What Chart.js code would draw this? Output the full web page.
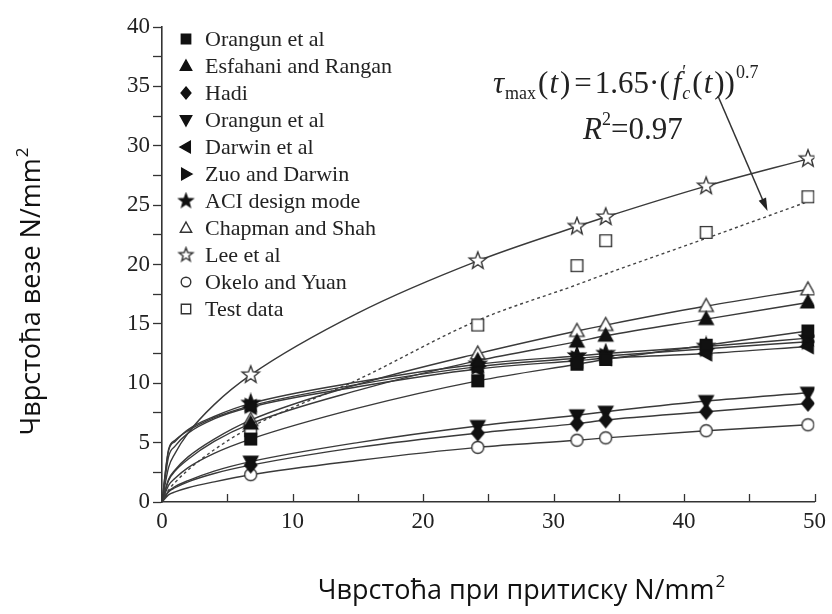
<!DOCTYPE html>
<html>
<head>
<meta charset="utf-8">
<script src="https://cdn.jsdelivr.net/npm/chart.js@4.4.1/dist/chart.umd.min.js"></script>
<style>
  html, body { margin: 0; padding: 0; background: #fff; }
  #wrap { width: 832px; height: 614px; }
</style>
</head>
<body>
<div id="wrap"><canvas id="chart" width="832" height="614"></canvas></div>
<script>
// compressive strength (x) where the model markers sit
const markerFc = [6.8, 24.2, 31.8, 34, 41.7, 49.5];
// x positions used to trace each model curve (markers only at markerFc)
const curveFc = [0, 0.5, 1, 2, 4, 6.8, 15, 24.2, 31.8, 34, 41.7, 49.5];

// bond strength along curveFc, N/mm2
const orangunSq   = [0, 1.4, 2.0, 2.9, 4.1, 5.3, 7.9, 10.2, 11.6, 12.0, 13.2, 14.4];
const esfahani    = [0, 1.8, 2.6, 3.6, 5.1, 6.6, 9.4, 11.9, 13.5, 14.0, 15.4, 16.8];
const hadi        = [0, 0.85, 1.2, 1.7, 2.4, 3.1, 4.6, 5.8, 6.6, 6.9, 7.6, 8.3];
const orangunTri  = [0, 0.9, 1.3, 1.8, 2.6, 3.4, 5.0, 6.4, 7.3, 7.6, 8.5, 9.2];
const darwin      = [0, 3.8, 4.7, 5.8, 7.0, 8.0, 9.7, 11.2, 11.9, 12.1, 12.5, 13.1];
const zuoDarwin   = [0, 4.4, 5.2, 6.0, 7.1, 8.1, 9.9, 11.4, 12.1, 12.3, 12.9, 13.5];
const aci         = [0, 4.3, 5.1, 6.1, 7.2, 8.3, 10.1, 11.6, 12.3, 12.5, 13.1, 13.8];
const chapman     = [0, 1.9, 2.7, 3.8, 5.3, 6.9, 9.9, 12.5, 14.4, 14.9, 16.5, 17.9];
const lee         = [0, 2.9, 4.1, 5.8, 8.2, 10.7, 15.9, 20.3, 23.2, 24.0, 26.6, 28.9];
const okelo       = [0, 0.6, 0.85, 1.2, 1.7, 2.3, 3.5, 4.6, 5.2, 5.4, 6.0, 6.5];
// measured values at markerFc and the fitted curve along curveFc
const testData    = [6.0, 14.9, 19.9, 22.0, 22.7, 25.7];
const testFit     = [0, 1.0, 1.65, 2.7, 4.4, 6.3, 10.3, 15.3, 18.3, 19.2, 22.2, 25.3];

const yTicks = { min: 0, max: 40, step: 2.5, labelEvery: 5 };
const xTicks = { min: 0, max: 50, step: 5, labelEvery: 10 };

const xTitle = 'Чврстоћа при притиску N/mm';
const yTitle = 'Чврстоћа везе N/mm';

// arrow from the formula to the fitted line (data units)
const arrowFrom = { x: 42.6, y: 34.2 };
const arrowTo = { x: 46.4, y: 24.5 };

const INK = '#222';
const LINE = '#3a3a3a';
const SERIF = '"Liberation Serif", "Times New Roman", serif';

function markerPath(g, shape, s) {
  g.beginPath();
  if (shape === 'square') {
    const h = s * 0.78;
    g.rect(-h, -h, h * 2, h * 2);
  } else if (shape === 'circle') {
    g.arc(0, 0, s * 0.8, 0, Math.PI * 2);
  } else if (shape === 'diamond') {
    g.moveTo(0, -s); g.lineTo(s * 0.82, 0); g.lineTo(0, s); g.lineTo(-s * 0.82, 0);
  } else if (shape === 'star') {
    for (let i = 0; i < 10; i++) {
      const r = i % 2 === 0 ? s : s * 0.42;
      const a = -Math.PI / 2 + i * Math.PI / 5;
      const px = Math.cos(a) * r, py = Math.sin(a) * r;
      if (i === 0) g.moveTo(px, py); else g.lineTo(px, py);
    }
  } else {
    // triangles: up, down, left, right
    const pts = {
      up:    [[0, -s], [s * 0.95, s * 0.72], [-s * 0.95, s * 0.72]],
      down:  [[0, s], [s * 0.95, -s * 0.72], [-s * 0.95, -s * 0.72]],
      left:  [[-s, 0], [s * 0.72, -s * 0.95], [s * 0.72, s * 0.95]],
      right: [[s, 0], [-s * 0.72, -s * 0.95], [-s * 0.72, s * 0.95]]
    }[shape];
    g.moveTo(pts[0][0], pts[0][1]);
    g.lineTo(pts[1][0], pts[1][1]);
    g.lineTo(pts[2][0], pts[2][1]);
  }
  g.closePath();
}

function markerImage(shape, filled, s) {
  const c = document.createElement('canvas');
  const size = Math.ceil(s * 2 + 4);
  c.width = c.height = size;
  const g = c.getContext('2d');
  g.translate(size / 2, size / 2);
  markerPath(g, shape, s);
  g.fillStyle = filled ? '#111' : '#fff';
  g.fill();
  g.lineWidth = 1.4;
  g.strokeStyle = filled ? '#111' : '#333';
  g.stroke();
  return c;
}

const series = [
  { label: 'Orangun et al',       shape: 'square',  filled: true,  size: 7.5, values: orangunSq },
  { label: 'Esfahani and Rangan', shape: 'up',      filled: true,  size: 7.5, values: esfahani },
  { label: 'Hadi',                shape: 'diamond', filled: true,  size: 7.5, values: hadi },
  { label: 'Orangun et al',       shape: 'down',    filled: true,  size: 7.5, values: orangunTri },
  { label: 'Darwin et al',        shape: 'left',    filled: true,  size: 7.5, values: darwin },
  { label: 'Zuo and Darwin',      shape: 'right',   filled: true,  size: 7.5, values: zuoDarwin },
  { label: 'ACI design mode',     shape: 'star',    filled: true,  size: 9,   values: aci },
  { label: 'Chapman and Shah',    shape: 'up',      filled: false, size: 7.5, values: chapman },
  { label: 'Lee et al',           shape: 'star',    filled: false, size: 9,   values: lee },
  { label: 'Okelo and Yuan',      shape: 'circle',  filled: false, size: 7.5, values: okelo },
  { label: 'Test data',           shape: 'square',  filled: false, size: 7.5, values: null }
];

series.forEach(s => {
  s.img = markerImage(s.shape, s.filled, s.size);
  s.legendImg = markerImage(s.shape, s.filled, s.size * 0.8);
});

const datasets = [];
series.forEach(s => {
  if (!s.values) return;
  datasets.push({
    label: s.label,
    data: curveFc.map((x, i) => ({ x: x, y: s.values[i] })),
    showLine: true,
    borderColor: LINE,
    borderWidth: 1.4,
    cubicInterpolationMode: 'monotone',
    pointStyle: s.img,
    pointRadius: ctx => (ctx.raw && markerFc.includes(ctx.raw.x)) ? s.size : 0
  });
});

const testSeries = series[series.length - 1];
datasets.push({
  label: 'Test data',
  data: markerFc.map((x, i) => ({ x: x, y: testData[i] })),
  showLine: false,
  pointStyle: testSeries.img,
  pointRadius: testSeries.size
});
datasets.push({
  label: 'fit',
  data: curveFc.map((x, i) => ({ x: x, y: testFit[i] })),
  showLine: true,
  borderColor: '#444',
  borderWidth: 1.4,
  borderDash: [3, 3],
  cubicInterpolationMode: 'monotone',
  pointRadius: 0
});

// draws a run of text pieces (italics, sub/superscripts) left to right
function drawRuns(ctx, x, y, runs) {
  runs.forEach(r => {
    ctx.font = r.font;
    ctx.fillText(r.t, x, y + (r.dy || 0));
    if (!r.noAdvance) x += ctx.measureText(r.t).width + (r.gap || 0);
  });
  return x;
}

function drawTitle(ctx, text, size) {
  ctx.font = size + 'px "Open Sans", sans-serif';
  const w1 = ctx.measureText(text).width;
  ctx.font = Math.round(size * 0.62) + 'px "Open Sans", sans-serif';
  const w2 = ctx.measureText('2').width;
  const x0 = -(w1 + w2) / 2;
  ctx.font = size + 'px "Open Sans", sans-serif';
  ctx.fillText(text, x0, 0);
  ctx.font = Math.round(size * 0.62) + 'px "Open Sans", sans-serif';
  ctx.fillText('2', x0 + w1 + 1, -size * 0.45);
}

const overlay = {
  id: 'overlay',
  afterDraw(chart) {
    const ctx = chart.ctx;
    const xs = chart.scales.x, ys = chart.scales.y;
    const area = chart.chartArea;
    ctx.save();

    // x tick marks point up into the plot
    ctx.strokeStyle = '#333';
    ctx.lineWidth = 1.3;
    xs.ticks.forEach(t => {
      const px = Math.round(xs.getPixelForValue(t.value)) + 0.5;
      ctx.beginPath();
      ctx.moveTo(px, area.bottom);
      ctx.lineTo(px, area.bottom - 8);
      ctx.stroke();
    });

    // legend
    ctx.fillStyle = INK;
    ctx.textAlign = 'left';
    ctx.textBaseline = 'middle';
    ctx.font = '22px ' + SERIF;
    series.forEach((s, i) => {
      const cy = 39 + i * 27;
      const img = s.legendImg;
      ctx.drawImage(img, 186 - img.width / 2, cy - img.height / 2);
      ctx.fillText(s.label, 205, cy + 1);
    });

    // fitted formula
    ctx.textBaseline = 'alphabetic';
    const big = '31px ' + SERIF, bigI = 'italic 31px ' + SERIF;
    const sm = '18px ' + SERIF, smI = 'italic 18px ' + SERIF;
    drawRuns(ctx, 493, 93, [
      { t: 'τ', font: bigI, gap: 1 },
      { t: 'max', font: sm, dy: 6, gap: 2 },
      { t: '(', font: big, gap: 1 },
      { t: 't', font: bigI, gap: 2 },
      { t: ')', font: big, gap: 4 },
      { t: '=', font: big, gap: 3 },
      { t: '1.65·(', font: big, gap: 3 },
      { t: 'f', font: bigI, gap: 1 },
      { t: '\u2032', font: sm, dy: -15, noAdvance: true },
      { t: 'c', font: smI, dy: 6, gap: 2 },
      { t: '(', font: big, gap: 1 },
      { t: 't', font: bigI, gap: 2 },
      { t: '))', font: big, gap: 1 },
      { t: '0.7', font: sm, dy: -15 }
    ]);
    drawRuns(ctx, 583, 139, [
      { t: 'R', font: bigI },
      { t: '2', font: sm, dy: -14 },
      { t: '=0.97', font: big }
    ]);

    // arrow pointing at the fitted curve
    const ax = xs.getPixelForValue(arrowFrom.x), ay = ys.getPixelForValue(arrowFrom.y);
    const bx = xs.getPixelForValue(arrowTo.x), by = ys.getPixelForValue(arrowTo.y);
    const ang = Math.atan2(by - ay, bx - ax);
    ctx.strokeStyle = '#333';
    ctx.fillStyle = '#222';
    ctx.lineWidth = 1.4;
    ctx.beginPath();
    ctx.moveTo(ax, ay);
    ctx.lineTo(bx - Math.cos(ang) * 10, by - Math.sin(ang) * 10);
    ctx.stroke();
    ctx.beginPath();
    ctx.moveTo(bx, by);
    ctx.lineTo(bx - Math.cos(ang) * 13 - Math.sin(ang) * 4, by - Math.sin(ang) * 13 + Math.cos(ang) * 4);
    ctx.lineTo(bx - Math.cos(ang) * 13 + Math.sin(ang) * 4, by - Math.sin(ang) * 13 - Math.cos(ang) * 4);
    ctx.closePath();
    ctx.fill();

    // axis titles
    ctx.fillStyle = '#111';
    ctx.textAlign = 'left';
    ctx.save();
    ctx.translate(521, 599);
    drawTitle(ctx, xTitle, 27);
    ctx.restore();
    ctx.save();
    ctx.translate(40, 292);
    ctx.rotate(-Math.PI / 2);
    drawTitle(ctx, yTitle, 27);
    ctx.restore();

    ctx.restore();
  }
};

new Chart(document.getElementById('chart'), {
  type: 'scatter',
  data: { datasets: datasets },
  options: {
    responsive: false,
    animation: false,
    events: [],
    layout: { padding: { left: 0, right: 15, top: 27, bottom: 0 } },
    plugins: { legend: { display: false }, tooltip: { enabled: false } },
    scales: {
      x: {
        type: 'linear',
        min: xTicks.min,
        max: xTicks.max,
        afterFit: scale => { scale.height = 112; },
        ticks: {
          stepSize: xTicks.step,
          autoSkip: false,
          maxRotation: 0,
          padding: 6,
          color: INK,
          font: { family: SERIF, size: 23 },
          callback: v => (v % xTicks.labelEvery === 0 ? v : '')
        },
        grid: { display: true, drawOnChartArea: false, drawTicks: false },
        border: { display: true, color: '#333', width: 1.6 }
      },
      y: {
        type: 'linear',
        min: yTicks.min,
        max: yTicks.max,
        afterFit: scale => { scale.width = 162; },
        ticks: {
          stepSize: yTicks.step,
          autoSkip: false,
          padding: 3,
          color: INK,
          font: { family: SERIF, size: 23 },
          callback: v => (v % yTicks.labelEvery === 0 ? v : '')
        },
        grid: { drawOnChartArea: false, drawTicks: true, tickLength: 9, color: '#333', tickWidth: 1.3 },
        border: { display: true, color: '#333', width: 1.6 }
      }
    }
  },
  plugins: [overlay]
});
</script>
</body>
</html>
